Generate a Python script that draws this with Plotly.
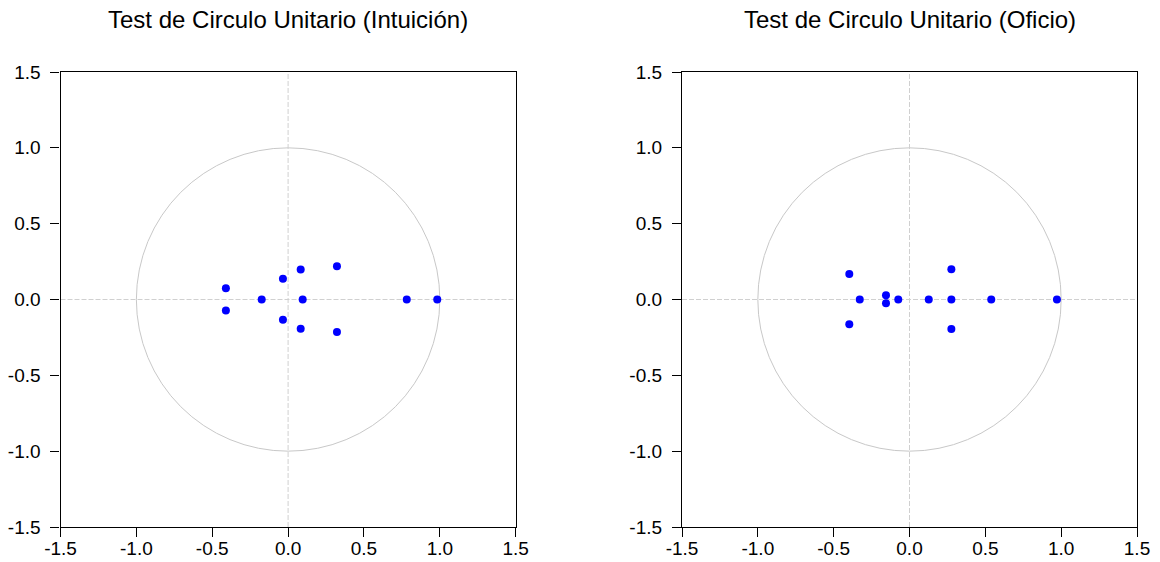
import plotly.graph_objects as go

# Roots of the characteristic polynomial
intuicion_re = [-0.41, -0.41, -0.174, -0.034, -0.034, 0.083, 0.083, 0.096, 0.322, 0.322, 0.782, 0.983]
intuicion_im = [0.075, -0.073, 0.0, 0.137, -0.133, 0.198, -0.193, 0.0, 0.22, -0.215, 0.0, 0.0]

oficio_re = [-0.397, -0.397, -0.328, -0.155, -0.155, -0.074, 0.127, 0.276, 0.276, 0.276, 0.539, 0.972]
oficio_im = [0.168, -0.163, 0.0, 0.028, -0.024, 0.0, 0.0, 0.2, 0.0, -0.194, 0.0, 0.0]

titles = ["Test de Circulo Unitario (Intuición)", "Test de Circulo Unitario (Oficio)"]
tick_vals = [-1.5, -1.0, -0.5, 0.0, 0.5, 1.0, 1.5]
tick_text = ["-1.5", "-1.0", "-0.5", "0.0", "0.5", "1.0", "1.5"]

W, H = 1160, 562
FONT = "Liberation Sans, Arial, sans-serif"

fig = go.Figure()
fig.add_trace(go.Scatter(x=intuicion_re, y=intuicion_im, mode="markers",
                         marker=dict(color="#0000FF", size=8), xaxis="x", yaxis="y",
                         showlegend=False, hoverinfo="x+y"))
fig.add_trace(go.Scatter(x=oficio_re, y=oficio_im, mode="markers",
                         marker=dict(color="#0000FF", size=8), xaxis="x2", yaxis="y2",
                         showlegend=False, hoverinfo="x+y"))

xdoms = [[60.5 / W, 515.7 / W], [682 / W, 1137 / W]]
ydom = [(H - 527) / H, (H - 72) / H]

axis_common = dict(range=[-1.5, 1.5], tickvals=tick_vals, ticktext=tick_text,
                   showgrid=False, zeroline=False, showline=True, linecolor="black",
                   linewidth=1.2, mirror=True, ticks="outside", ticklen=9, tickwidth=1,
                   tickcolor="black", tickfont=dict(family=FONT, size=19, color="black"),
                   fixedrange=True, automargin=False)

layout = dict(width=W, height=H, plot_bgcolor="white", paper_bgcolor="white",
              margin=dict(l=0, r=0, t=0, b=0), showlegend=False)
fig.update_layout(**layout)
fig.update_layout(
    xaxis=dict(domain=xdoms[0], anchor="y", ticklabelstandoff=-5, **axis_common),
    yaxis=dict(domain=ydom, anchor="x", ticklabelstandoff=6, **axis_common),
    xaxis2=dict(domain=xdoms[1], anchor="y2", ticklabelstandoff=-5, **axis_common),
    yaxis2=dict(domain=ydom, anchor="x2", ticklabelstandoff=6, **axis_common),
)

shapes = []
for xr, yr in [("x", "y"), ("x2", "y2")]:
    shapes.append(dict(type="circle", xref=xr, yref=yr, x0=-1, x1=1, y0=-1, y1=1,
                       line=dict(color="#c8c8c8", width=1), layer="below"))
    shapes.append(dict(type="line", xref=xr, yref=yr, x0=-1.5, x1=1.5, y0=0, y1=0,
                       line=dict(color="#d0d0d0", width=1, dash="5px,2px"), layer="below"))
    shapes.append(dict(type="line", xref=xr, yref=yr, x0=0, x1=0, y0=-1.5, y1=1.5,
                       line=dict(color="#d0d0d0", width=1, dash="5px,2px"), layer="below"))
fig.update_layout(shapes=shapes)

annotations = []
for t, d in zip(titles, xdoms):
    annotations.append(dict(text=t, x=(d[0] + d[1]) / 2, y=(H - 20) / H,
                            xref="paper", yref="paper",
                            showarrow=False, xanchor="center", yanchor="middle",
                            font=dict(family=FONT, size=24, color="black")))
fig.update_layout(annotations=annotations)

# remove the default 8px page margin so the figure fills the window exactly
fig.write_html("out.html", config={"displayModeBar": False},
               post_script="document.body.style.margin='0px';document.body.style.overflow='hidden';")
